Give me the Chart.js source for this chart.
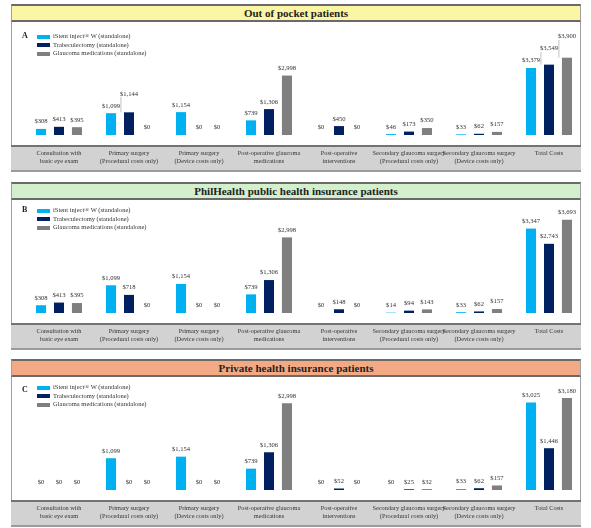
<!DOCTYPE html>
<html><head><meta charset="utf-8">
<script src="https://cdn.jsdelivr.net/npm/chart.js@4.4.1/dist/chart.umd.min.js"></script>
<style>
html,body{margin:0;padding:0;background:#fff;width:591px;height:528px;overflow:hidden;font-family:"Liberation Serif","Times New Roman",serif;}
.box{position:absolute;left:11px;width:570px;border:1px solid #a0a0a0;box-sizing:border-box;}
.hdr{position:absolute;left:11px;width:570px;height:18px;box-sizing:border-box;border-top:2px solid #6a6a6a;border-bottom:2px solid #6a6a6a;border-left:1px solid #a0a0a0;border-right:1px solid #a0a0a0;text-align:center;font-weight:bold;font-size:11px;line-height:14px;color:#222;}
canvas{position:absolute;left:0;}
.letter{position:absolute;left:22px;font-weight:bold;font-size:8px;color:#222;}
.leg{position:absolute;left:37px;font-size:6.5px;color:#333;}
.leg div{height:8.5px;line-height:8.5px;white-space:nowrap;}
.leg span{display:inline-block;width:13px;height:4px;margin-right:3px;vertical-align:middle;}
</style></head><body>
<script>
const categories = [
  ["Consultation with","basic eye exam"],
  ["Primary surgery","(Procedural costs only)"],
  ["Primary surgery","(Device costs only)"],
  ["Post-operative glaucoma","medications"],
  ["Post-operative","interventions"],
  ["Secondary glaucoma surgery","(Procedural costs only)"],
  ["Secondary glaucoma surgery","(Device costs only)"],
  ["Total Costs"]
];
const seriesNames = ["iStent inject\u00AE W (standalone)","Trabeculectomy (standalone)","Glaucoma medications (standalone)"];
const seriesColors = ["#00B0F0","#002060","#7F7F7F"];

const panelTitles = ["Out of pocket patients","PhilHealth public health insurance patients","Private health insurance patients"];
const panelLetters = ["A","B","C"];
const panelHeaderColors = ["#FBF6A4","#D3EFCB","#F3AA84"];

// Panel A: Out of pocket
const outOfPocketIStent = [308, 1099, 1154, 739, 0, 46, 33, 3379];
const outOfPocketTrab   = [413, 1144, 0, 1306, 450, 173, 62, 3549];
const outOfPocketMeds   = [395, 0, 0, 2998, 0, 350, 157, 3900];
// Panel B: PhilHealth
const philHealthIStent = [308, 1099, 1154, 739, 0, 14, 33, 3347];
const philHealthTrab   = [413, 718, 0, 1306, 148, 94, 62, 2743];
const philHealthMeds   = [395, 0, 0, 2998, 0, 143, 157, 3693];
// Panel C: Private
const privateIStent = [0, 1099, 1154, 739, 0, 0, 33, 3025];
const privateTrab   = [0, 0, 0, 1306, 52, 25, 62, 1446];
const privateMeds   = [0, 0, 0, 2998, 0, 32, 157, 3180];

const panelData = [
  [outOfPocketIStent, outOfPocketTrab, outOfPocketMeds],
  [philHealthIStent, philHealthTrab, philHealthMeds],
  [privateIStent, privateTrab, privateMeds]
];
const panelMax = [5700, 4480, 3910];
const panelTops = [4, 182, 359];
const legendOffsets = [10, 6, 6];
const letterOffsets = [9, 5, 8];

const FONT = "'Liberation Serif','Times New Roman',serif";

const bandPlugin = {
  id: 'band',
  beforeDraw(chart) {
    const ctx = chart.ctx, b = chart.chartArea.bottom;
    ctx.save();
    ctx.fillStyle = '#D2D2D2';
    ctx.fillRect(11, b + 11, 570, 25);
    ctx.fillStyle = '#737373';
    ctx.fillRect(11, b + 10, 570, 2);
    ctx.fillStyle = '#999';
    ctx.fillRect(11, b + 35, 570, 1.5);
    ctx.restore();
  }
};
const valueLabelPlugin = {
  id: 'valueLabels',
  afterDatasetsDraw(chart) {
    const ctx = chart.ctx;
    ctx.save();
    ctx.font = '6.6px ' + FONT;
    ctx.textAlign = 'center';
    ctx.textBaseline = 'bottom';
    const n = chart.data.labels.length;
    const H = 7;
    for (let j = 0; j < n; j++) {
      const placed = [];
      chart.data.datasets.forEach((ds, i) => {
        const el = chart.getDatasetMeta(i).data[j];
        const v = ds.data[j];
        const text = '$' + v.toLocaleString('en-US');
        const w = ctx.measureText(text).width;
        let y = el.y - 4;
        const x0 = el.x - w / 2 - 0.5, x1 = el.x + w / 2 + 0.5;
        let moved = true, raised = false;
        while (moved) {
          moved = false;
          for (const r of placed) {
            if (x0 < r.x1 && x1 > r.x0 && y > r.y - H && y - H < r.y) {
              y = r.y - H - 5; moved = true; raised = true;
            }
          }
        }
        placed.push({x0, x1, y});
        if (raised) {
          ctx.strokeStyle = '#999';
          ctx.lineWidth = 0.6;
          ctx.beginPath();
          ctx.moveTo(el.x - w / 2 + 1, el.y);
          ctx.lineTo(el.x - w / 2 + 1, y);
          ctx.stroke();
        }
        ctx.fillStyle = '#333';
        ctx.fillText(text, el.x, y);
      });
    }
    ctx.restore();
  }
};

panelData.forEach((series, p) => {
  const top = panelTops[p];
  const box = document.createElement('div');
  box.className = 'box';
  box.style.top = top + 'px';
  box.style.height = '168px';
  document.body.appendChild(box);

  const hdr = document.createElement('div');
  hdr.className = 'hdr';
  hdr.style.top = top + 'px';
  hdr.style.background = panelHeaderColors[p];
  hdr.textContent = panelTitles[p];
  document.body.appendChild(hdr);

  const cv = document.createElement('canvas');
  cv.width = 591; cv.height = 150;
  cv.style.top = (top + 18) + 'px';
  cv.style.width = '591px'; cv.style.height = '150px';
  document.body.appendChild(cv);

  const letter = document.createElement('div');
  letter.className = 'letter';
  letter.style.top = (top + 18 + letterOffsets[p]) + 'px';
  letter.textContent = panelLetters[p];
  document.body.appendChild(letter);

  const leg = document.createElement('div');
  leg.className = 'leg';
  leg.style.top = (top + 18 + legendOffsets[p]) + 'px';
  seriesNames.forEach((n, i) => {
    const row = document.createElement('div');
    const sw = document.createElement('span');
    sw.style.background = seriesColors[i];
    row.appendChild(sw);
    row.appendChild(document.createTextNode(n));
    leg.appendChild(row);
  });
  document.body.appendChild(leg);

  new Chart(cv.getContext('2d'), {
    type: 'bar',
    data: {
      labels: categories,
      datasets: series.map((d, i) => ({
        label: seriesNames[i],
        data: d,
        backgroundColor: seriesColors[i],
        barPercentage: 0.56,
        categoryPercentage: 0.77
      }))
    },
    options: {
      responsive: false,
      animation: false,
      devicePixelRatio: 1,
      layout: { padding: { left: 24, right: 7, top: 0, bottom: 0 } },
      plugins: { legend: { display: false }, tooltip: { enabled: false } },
      scales: {
        x: {
          grid: { display: false, drawTicks: false },
          border: { display: false },
          ticks: { font: { family: FONT, size: 6.3 }, color: '#333', padding: 15, maxRotation: 0, autoSkip: false },
          afterFit(s) { s.height = 37; }
        },
        y: { display: false, min: 0, max: panelMax[p] }
      }
    },
    plugins: [bandPlugin, valueLabelPlugin]
  });
});
</script>
</body></html>
